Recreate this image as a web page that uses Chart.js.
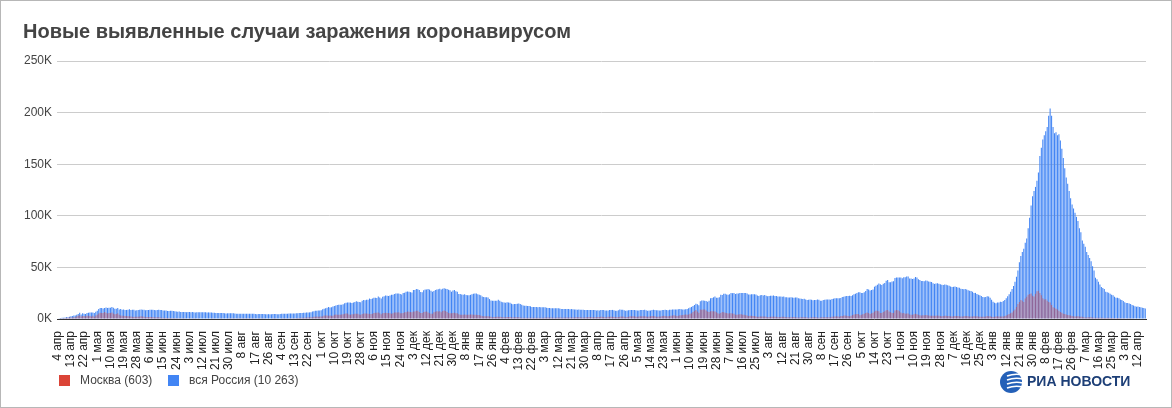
<!DOCTYPE html>
<html lang="ru">
<head>
<meta charset="utf-8">
<title>Новые выявленные случаи заражения коронавирусом</title>
<script src="https://cdn.jsdelivr.net/npm/chart.js@4.4.1/dist/chart.umd.min.js"></script>
<style>
html,body{margin:0;padding:0;background:#fff;}
#wrap{width:1172px;height:408px;}
</style>
</head>
<body>
<div id="wrap"><canvas id="grafico" width="1172" height="408"></canvas></div>
<script>

// значения в тысячах случаев в день, с 4 апреля 2020

const moscow2020 = [
// апр
0.4,0.5,0.7,0.7,0.8,1.0,1.1,1.1,1.4,1.5,1.5,1.8,1.7,2.6,3.1,3.6,2.5,3.0,2.8,2.6,3.1,3.1,2.9,2.5,3.1,2.2,3.4,
// май
4.0,5.4,6.0,5.9,5.7,6.7,6.0,5.4,5.7,5.9,6.2,5.4,4.7,4.8,5.5,4.0,3.5,3.2,3.2,2.9,2.9,2.6,2.6,2.5,2.1,2.0,2.1,2.1,2.3,2.4,2.6,
// июн
2.5,2.3,1.7,1.9,1.8,2.0,2.0,1.8,1.6,1.4,1.6,1.6,1.5,1.3,1.1,1.0,1.1,1.0,0.9,1.0,1.0,0.7,0.9,0.7,0.7,0.7,0.7,0.7,0.7,0.8,
// июл
0.6,0.6,0.7,0.7,0.6,0.7,0.7,0.6,0.7,0.6,0.6,0.6,0.6,0.6,0.6,0.6,0.6,0.7,0.7,0.6,0.6,0.6,0.6,0.7,0.7,0.6,0.6,0.6,0.6,0.7,0.7,
// авг
0.7,0.7,0.7,0.6,0.7,0.7,0.7,0.7,0.7,0.7,0.7,0.7,0.7,0.7,0.7,0.7,0.6,0.6,0.7,0.7,0.7,0.7,0.7,0.6,0.6,0.6,0.6,0.6,0.7,0.7,0.7,
// сен
0.6,0.6,0.6,0.7,0.7,0.7,0.7,0.6,0.7,0.7,0.8,0.8,0.8,0.8,0.9,1.0,1.1,1.1,1.2,1.2,1.5,1.5,1.6,1.6,1.8,2.1,2.3,2.4,2.3,2.4,
// окт
2.4,2.6,3.3,3.5,3.5,3.2,3.3,3.2,3.1,4.0,4.3,4.0,4.0,4.0,4.4,4.6,5.0,5.4,5.4,4.4,4.1,4.5,4.6,5.2,5.2,5.0,4.3,4.2,4.9,5.4,5.3,
// ноя
5.3,5.0,5.0,4.8,5.0,5.9,6.0,6.1,6.4,5.5,4.6,5.5,5.7,6.0,5.9,5.9,5.6,5.0,5.6,6.3,6.4,6.2,6.5,5.5,5.6,5.8,6.5,6.6,7.2,7.0,
// дек
6.8,6.6,7.2,7.2,8.0,7.9,6.9,5.7,5.8,6.9,7.0,7.2,6.4,5.6,5.1,5.2,6.6,7.0,7.6,7.3,7.5,6.6,7.8,8.2,7.8,6.7,5.7,5.5,5.5,5.9,6.0
];

const moscow2021 = [
5.5,5.5,4.5,4.2,4.1,4.0,4.4,4.1,4.1,4.2,4.4,4.4,4.2,4.0,4.0,3.9,3.8,3.5,3.0,2.7,2.6,2.6,2.6,2.5,2.1,1.7,1.9,2.0,2.1,2.3,2.2,
1.9,1.7,1.8,1.8,1.9,2.0,1.9,1.6,1.5,1.6,1.6,1.6,1.6,1.5,1.3,1.2,1.2,1.3,1.3,1.3,1.3,1.1,1.2,1.2,1.3,1.3,1.3,1.3,
1.2,1.3,1.4,1.4,1.4,1.4,1.4,1.4,1.2,1.3,1.4,1.4,1.4,1.4,1.3,1.4,1.4,1.4,1.4,1.5,1.5,1.4,1.5,1.6,1.7,1.7,1.6,1.5,1.4,1.5,1.7,
1.8,1.9,1.8,1.7,1.6,1.6,1.7,1.9,2.0,2.1,2.1,1.9,1.7,1.8,2.1,2.2,2.3,2.2,2.0,1.9,1.8,2.0,2.3,2.4,2.5,2.2,1.8,1.9,2.2,2.6,
2.6,2.7,2.6,2.3,2.2,2.4,2.6,2.6,2.6,2.7,2.4,2.1,2.4,2.6,2.9,3.0,2.6,2.3,2.3,2.4,2.4,2.9,3.1,3.0,2.7,2.6,3.0,3.2,3.4,3.6,3.4,
3.0,3.1,3.6,3.7,3.9,4.2,4.4,4.2,4.4,5.2,5.5,6.7,7.7,8.6,7.3,6.0,9.1,9.0,9.1,9.1,8.3,7.2,6.8,7.4,7.5,7.5,7.3,6.6,5.6,5.0,
5.9,6.8,6.6,6.0,5.7,5.3,5.6,5.5,5.3,5.1,4.2,4.1,4.4,4.5,4.5,4.0,4.2,3.6,3.4,3.0,3.2,3.1,3.0,2.8,2.5,2.2,2.1,2.4,2.5,2.4,2.4,
2.1,1.8,2.0,2.2,2.3,2.4,2.3,2.1,1.8,1.9,2.0,2.2,2.1,2.0,1.8,1.6,1.6,1.8,1.8,1.9,1.7,1.5,1.4,1.5,1.6,1.6,1.6,1.6,1.4,1.2,1.4,
1.5,1.6,1.6,1.6,1.5,1.3,1.4,1.6,1.7,1.8,1.8,1.8,1.6,1.8,2.1,2.4,2.5,2.6,2.4,2.3,2.8,3.0,3.3,3.4,3.2,3.0,2.7,3.2,3.8,4.3,
4.6,4.8,4.8,3.7,4.1,4.5,5.2,5.9,6.2,5.8,4.8,5.5,6.0,7.3,7.9,7.9,7.6,5.9,5.8,6.9,7.6,8.4,8.8,7.2,6.5,5.8,5.9,8.3,8.8,8.5,7.4,
6.2,5.6,5.8,5.2,5.3,5.3,4.4,4.0,4.0,4.6,5.1,4.6,4.1,3.6,3.5,3.6,3.7,3.8,3.6,3.4,3.2,3.2,3.2,3.2,3.2,3.3,3.2,2.8,2.7,2.8,
3.1,3.1,3.0,2.9,2.6,2.4,2.7,2.9,2.9,2.8,2.7,2.5,2.4,2.6,2.8,2.8,2.7,2.5,2.4,2.4,2.6,2.6,2.6,2.5,2.3,2.2,2.2,2.3,2.5,2.8,2.7
];

const moscow2022 = [
2.7,2.2,2.0,2.2,2.5,2.6,2.5,2.5,2.4,2.5,3.0,3.4,4.1,4.8,5.6,6.3,7.9,9.1,11.6,14.5,16.4,18.3,17.7,16.5,19.8,21.5,23.4,24.3,24.8,22.6,21.7,
24.4,26.8,27.4,25.1,22.9,20.1,18.9,19.1,17.6,16.5,15.9,13.6,11.4,10.8,10.0,9.1,8.1,6.9,6.0,5.2,4.8,4.3,3.8,3.6,3.3,3.0,2.7,2.5,
2.6,2.6,2.5,2.3,2.1,1.7,1.5,1.5,1.6,1.7,1.6,1.5,1.3,1.2,1.3,1.3,1.3,1.2,1.1,1.0,1.0,1.1,1.1,1.0,0.9,0.9,0.8,0.8,0.9,0.9,0.8,
0.8,0.7,0.7,0.6,0.7,0.7,0.7,0.7,0.6,0.6,0.6,0.6,0.6,0.6,0.6,0.6,0.603
];

const russia2020 = [
// апр
0.6,0.7,1.0,1.2,1.2,1.5,1.8,1.7,2.2,2.6,2.8,3.4,3.4,4.1,4.8,6.1,4.3,5.6,5.2,4.8,5.8,6.0,6.4,6.2,6.4,5.8,7.1,
// май
7.9,9.6,10.6,10.6,10.1,10.6,11.2,10.7,10.8,11.0,11.7,10.9,10.0,10.0,10.6,9.2,9.7,8.9,9.3,8.8,8.8,8.9,9.4,8.6,8.9,8.9,8.3,8.4,8.6,9.0,9.3,
// июн
9.0,8.9,8.5,8.8,8.7,8.9,9.0,9.0,8.6,8.4,8.8,9.0,8.7,8.8,8.2,8.2,8.2,7.8,7.8,8.0,7.9,7.7,7.6,7.2,7.1,7.2,6.8,6.9,6.7,6.7,
// июл
6.6,6.8,6.7,6.6,6.7,6.6,6.4,6.6,6.5,6.6,6.6,6.6,6.6,6.5,6.4,6.4,6.4,6.2,6.1,6.0,5.8,5.9,5.8,5.8,5.9,5.8,5.6,5.4,5.5,5.5,5.5,
// авг
5.5,5.5,5.4,5.2,5.2,5.2,5.2,5.2,5.2,5.1,5.1,5.1,5.1,5.1,5.1,5.0,4.8,4.7,4.8,4.8,4.9,4.9,4.9,4.7,4.7,4.7,4.7,4.7,4.9,4.9,4.9,
// сен
4.7,4.7,4.9,5.0,5.2,5.2,5.1,5.1,5.4,5.4,5.4,5.4,5.4,5.5,5.5,5.7,5.7,5.9,6.1,6.1,6.2,6.2,6.4,6.6,7.2,7.5,7.9,8.1,8.2,8.2,
// окт
8.5,9.4,9.9,10.5,10.9,11.6,11.1,11.5,12.1,12.6,13.0,13.6,13.9,13.8,13.8,14.2,15.2,15.7,15.9,15.9,15.9,15.5,16.0,16.5,17.3,16.6,16.5,16.2,17.7,18.3,18.1,
// ноя
18.7,18.6,19.8,19.4,19.8,20.6,20.5,20.4,21.8,20.9,19.9,21.6,22.0,22.7,22.6,22.4,22.8,23.6,23.6,24.3,24.6,24.6,24.8,24.3,23.7,25.2,25.5,26.3,26.7,26.3,
// дек
26.0,25.6,28.1,28.1,29.0,28.8,28.1,26.1,26.0,27.9,28.6,28.6,29.0,28.5,27.3,26.4,27.2,28.2,28.6,28.9,29.2,28.6,29.4,29.9,29.3,29.0,28.3,27.8,26.5,27.7,28.0
];

const russia2021 = [
27.0,26.3,24.2,24.2,23.8,23.4,24.0,23.3,23.0,22.9,23.4,24.1,24.5,24.8,24.7,24.1,23.5,22.9,21.7,21.3,21.1,21.1,20.9,19.3,18.0,17.7,17.7,17.8,17.6,18.6,17.7,
16.6,16.2,16.0,15.8,16.2,15.9,15.7,14.8,14.4,14.5,14.5,14.7,14.9,14.5,13.8,13.1,12.8,12.8,12.7,12.6,12.3,11.7,11.7,11.6,11.6,11.5,11.7,11.5,
11.3,11.4,11.4,11.0,10.6,10.6,10.5,10.4,10.4,10.4,10.5,10.4,10.2,9.8,9.6,9.6,9.8,9.8,9.7,9.5,9.6,9.5,9.3,9.1,9.0,9.1,9.0,8.9,8.9,8.6,8.6,
8.8,8.8,8.7,8.6,8.7,8.6,8.3,8.4,8.3,8.7,8.8,8.6,8.3,8.2,8.3,8.7,8.8,8.8,8.4,8.1,8.1,8.4,9.1,9.0,9.0,8.5,8.1,8.3,8.4,8.7,
8.7,8.7,8.7,8.4,8.2,8.3,8.6,8.7,8.8,9.0,8.4,8.1,8.2,8.3,8.8,8.9,8.6,8.4,8.4,8.2,8.2,8.6,8.8,8.9,8.6,8.5,8.9,9.0,9.2,9.3,9.2,
9.3,9.5,9.6,9.5,9.2,9.3,9.4,9.8,10.4,11.1,11.7,12.5,13.5,14.7,14.2,13.4,17.3,17.9,17.9,17.6,17.4,16.7,17.6,20.2,20.4,21.0,21.7,20.5,20.6,21.0,
23.5,23.2,24.4,24.4,23.7,23.4,24.0,25.1,25.0,25.1,24.3,24.7,24.7,25.3,25.2,25.3,25.2,25.1,24.6,23.8,23.7,24.0,24.1,24.1,23.8,22.8,22.4,23.0,23.3,22.8,23.3,
22.6,22.1,22.3,22.6,22.6,22.8,22.4,22.2,21.9,21.7,21.9,21.6,21.9,21.1,21.0,20.8,20.8,21.0,20.8,20.6,20.9,20.8,20.0,19.9,19.6,19.3,19.6,18.9,18.3,18.6,18.9,
18.7,18.2,18.3,18.4,18.9,18.6,17.8,17.8,18.4,18.6,18.9,18.8,18.9,18.6,19.5,19.7,20.2,20.2,20.2,20.1,20.3,21.3,21.6,22.1,22.2,22.3,22.5,22.4,23.0,23.9,
24.5,25.1,25.8,25.8,25.1,25.1,26.0,27.2,29.0,28.7,27.5,28.2,28.5,31.3,32.2,33.2,34.3,33.7,33.0,34.1,35.0,37.1,37.7,35.7,35.6,36.4,36.6,39.8,40.1,40.3,40.3,
40.1,39.4,40.4,40.4,41.3,41.3,39.2,39.2,38.8,39.2,40.8,40.1,38.5,37.9,36.9,36.8,36.6,37.2,37.1,36.3,36.0,35.8,34.6,34.0,34.3,34.7,34.1,33.6,33.2,33.0,
33.5,33.3,32.8,32.2,31.6,31.1,31.2,31.6,31.1,30.6,30.3,29.3,29.1,28.9,29.0,28.7,27.9,27.3,27.2,26.3,25.2,25.3,24.3,23.6,23.1,22.2,21.2,21.1,21.2,22.0,21.9
];

const russia2022 = [
20.7,18.6,16.8,15.8,15.3,15.9,16.1,16.6,16.5,17.5,18.5,20.0,22.0,24.0,26.5,29.0,32.0,36.0,41.0,47.0,55.0,61.0,65.0,68.0,74.0,78.0,88.0,98.0,110.0,119.0,124.0,
128.0,134.0,142.0,158.0,166.0,174.0,178.0,182.0,186.0,197.0,203.9,197.0,186.0,180.0,181.0,178.0,179.0,173.0,165.0,156.0,146.0,137.0,131.0,124.0,117.0,111.0,107.0,103.0,
99.0,95.0,88.0,84.0,76.0,73.0,70.0,65.0,62.0,59.0,56.0,51.0,47.0,40.0,38.5,36.0,33.5,31.0,30.0,29.0,26.5,26.0,25.5,24.5,23.5,23.0,21.5,20.5,20.5,20.0,18.8,
18.5,17.5,16.3,15.6,15.5,15.0,14.6,13.5,13.0,12.3,11.9,12.0,11.6,11.4,10.9,10.7,10.263
];

// подписи оси X, каждые 9 дней
const tickLabels = [
"4 апр","13 апр","22 апр","1 мая","10 мая","19 мая","28 мая","6 июн","15 июн","24 июн",
"3 июл","12 июл","21 июл","30 июл","8 авг","17 авг","26 авг","4 сен","13 сен","22 сен",
"1 окт","10 окт","19 окт","28 окт","6 ноя","15 ноя","24 ноя","3 дек","12 дек","21 дек",
"30 дек","8 янв","17 янв","26 янв","4 фев","13 фев","22 фев","3 мар","12 мар","21 мар",
"30 мар","8 апр","17 апр","26 апр","5 мая","14 мая","23 мая","1 июн","10 июн","19 июн",
"28 июн","7 июл","16 июл","25 июл","3 авг","12 авг","21 авг","30 авг","8 сен","17 сен",
"26 сен","5 окт","14 окт","23 окт","1 ноя","10 ноя","19 ноя","28 ноя","7 дек","16 дек",
"25 дек","3 янв","12 янв","21 янв","30 янв","8 фев","17 фев","26 фев","7 мар","16 мар",
"25 мар","3 апр","12 апр"
];

const seriesNames = ["Москва (603)", "вся Россия (10 263)"];
const seriesColors = ["#db4437", "#4285f4"];

const moscow = [...moscow2020, ...moscow2021, ...moscow2022];
const russia = [...russia2020, ...russia2021, ...russia2022];

// одна категория на каждый день
const days = russia.map((v, i) => i);

const FONT = "'Liberation Sans', Arial, sans-serif";


// заголовок, легенда, логотип, рамка
const oformlenie = {
id: "oformlenie",
afterDraw(chart){

const c = chart.ctx;
c.save();

// рамка
c.strokeStyle = "#b7b7b7";
c.lineWidth = 1;
c.strokeRect(0.5, 0.5, chart.width - 1, chart.height - 1);

// заголовок
c.fillStyle = "#444";
c.font = "bold 20px " + FONT;
c.textBaseline = "alphabetic";
c.textAlign = "left";
c.fillText("Новые выявленные случаи заражения коронавирусом", 23, 38);

// легенда
c.font = "12px " + FONT;
c.textBaseline = "middle";
let x = 59;
seriesNames.forEach((name, i) => {
c.fillStyle = seriesColors[i];
c.fillRect(x, 375, 11, 11);
c.fillStyle = "#444";
c.fillText(name, x + 21, 381);
x += 109;
});

// логотип РИА Новости
const lx = 1011, ly = 382;
c.fillStyle = "#2460b8";
c.beginPath();
c.arc(lx, ly, 11, 0, Math.PI * 2);
c.fill();
c.strokeStyle = "#fff";
c.lineWidth = 1.6;
[-6, -2, 2, 6].forEach(d => {
c.beginPath();
c.moveTo(lx - 4, ly + d);
c.quadraticCurveTo(lx + 4, ly + d - 3, lx + 12, ly + d - 1);
c.stroke();
});
c.fillStyle = "#1d3f77";
c.font = "bold 14px " + FONT;
c.fillText("РИА НОВОСТИ", 1027, 382);

c.restore();
}
};


new Chart(

document.getElementById("grafico"),

{
type: "bar",

data: {
labels: days,
datasets: [
{
label: seriesNames[0],
data: moscow,
backgroundColor: "rgba(219,68,55,0.5)",
grouped: false,
barPercentage: 0.72,
categoryPercentage: 1
},
{
label: seriesNames[1],
data: russia,
backgroundColor: seriesColors[1],
grouped: false,
barPercentage: 0.72,
categoryPercentage: 1
}
]
},

options: {
responsive: false,
animation: false,
events: [],
layout: {
padding: {left: 0, right: 26, top: 61, bottom: 33}
},
plugins: {
legend: {display: false},
title: {display: false},
tooltip: {enabled: false}
},
scales: {
x: {
grid: {display: false},
border: {display: true, color: "#333", width: 1},
ticks: {
autoSkip: false,
minRotation: 90,
maxRotation: 90,
padding: 4,
color: "#222",
font: {family: FONT, size: 12},
callback: (value, index) => index % 9 === 0 ? tickLabels[index / 9] : null
},
afterFit: s => { s.height = 56; }
},
y: {
min: 0,
max: 250,
border: {display: false},
grid: {color: "#cccccc", drawTicks: false},
ticks: {
stepSize: 50,
padding: 5,
color: "#444",
font: {family: FONT, size: 12},
callback: v => v + "K"
},
afterFit: s => { s.width = 57; }
}
}
},

plugins: [oformlenie]
}

);

</script>
</body>
</html>
